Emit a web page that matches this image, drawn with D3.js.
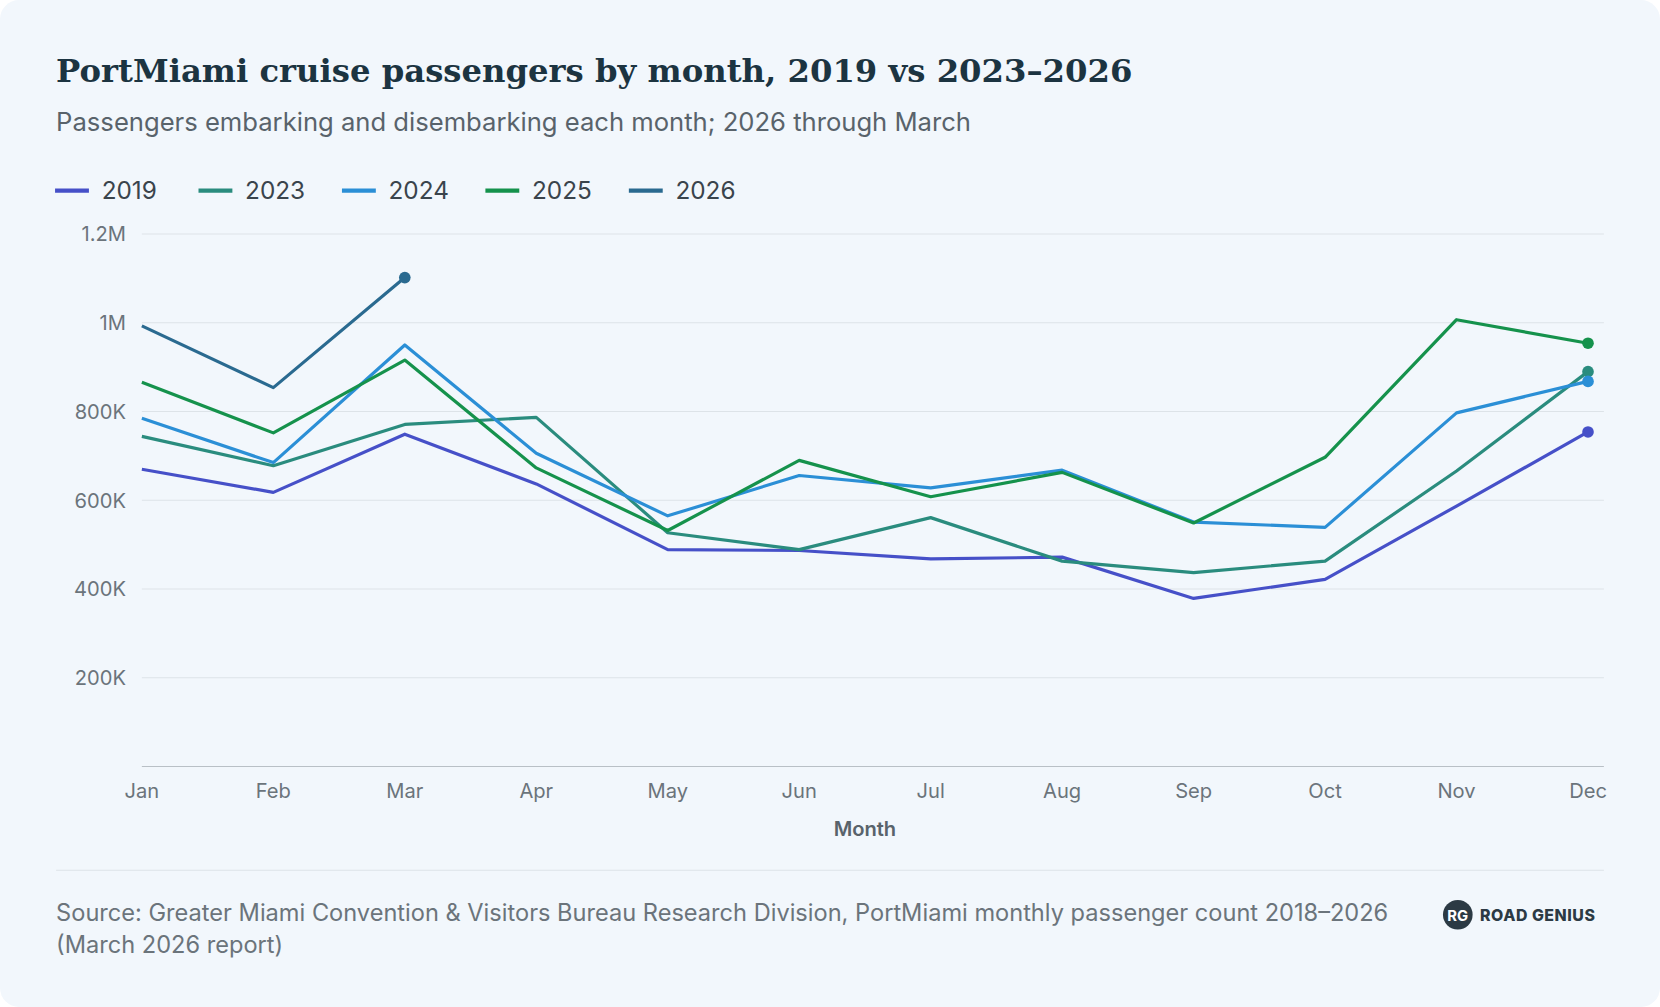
<!DOCTYPE html>
<html><head><meta charset="utf-8">
<script src="https://cdn.jsdelivr.net/npm/d3@7"></script>
<style>
html,body{margin:0;padding:0;background:#fff;}
text{font-family:Inter,"Noto Sans",sans-serif;}
</style></head>
<body><svg id="chart" width="1660" height="1007" viewBox="0 0 1568 951"></svg>
<script>
const months = ["Jan","Feb","Mar","Apr","May","Jun","Jul","Aug","Sep","Oct","Nov","Dec"];
const years = ["2019","2023","2024","2025","2026"];
const colors = ["#4650c8","#2a8c7e","#2b8fd6","#15924c","#2a6a90"];
const v2019 = [670000,618000,749000,637000,489000,487000,468000,472000,379000,422000,587000,754000];
const v2023 = [744000,678000,771000,787000,527000,489000,561000,463000,437000,463000,666000,890000];
const v2024 = [785000,685000,950000,706000,565000,656000,628000,668000,551000,539000,797000,868000];
const v2025 = [866000,752000,916000,673000,532000,690000,608000,663000,549000,697000,1007000,954000];
const v2026 = [993000,854000,1102000];
const yTicks = [200000,400000,600000,800000,1000000,1200000];
const series = [v2019,v2023,v2024,v2025,v2026];

const svg = d3.select("#chart");
svg.append("rect").attr("width",1568).attr("height",951).attr("rx",18).attr("fill","#f2f7fc");

svg.append("text").attr("x",53).attr("y",77).text("PortMiami cruise passengers by month, 2019 vs 2023–2026")
  .style("font-family","'DejaVu Serif',serif").style("font-weight","bold").style("font-size","30.5px").attr("fill","#1c3441");
svg.append("text").attr("x",53).attr("y",124).text("Passengers embarking and disembarking each month; 2026 through March")
  .style("font-size","24.2px").attr("fill","#59636b");

// legend
let lx = 52;
years.forEach((y,i)=>{
  svg.append("line").attr("x1",lx).attr("x2",lx+32).attr("y1",180).attr("y2",180)
    .attr("stroke",colors[i]).attr("stroke-width",4);
  svg.append("text").attr("x",lx+44).attr("y",188).text(y).style("font-size","23px").attr("fill","#3a444c");
  lx += 135.5;
});

const x = d3.scalePoint().domain(months).range([134,1500]);
const y = d3.scaleLinear().domain([0,1200000]).range([724,221]);
const fmt = d => d>=1000000 ? d3.format("~")(d/1000000)+"M" : (d/1000)+"K";

const g = svg.append("g");
g.selectAll(".grid").data(yTicks).enter().append("line")
  .attr("x1",134).attr("x2",1515).attr("y1",d=>y(d)).attr("y2",d=>y(d))
  .attr("stroke","#dde3e8").attr("stroke-width",1);
g.selectAll(".yl").data(yTicks).enter().append("text")
  .attr("x",119).attr("y",d=>y(d)+7).attr("text-anchor","end").text(fmt)
  .style("font-size","19px").attr("fill","#6b747b");
g.append("line").attr("x1",134).attr("x2",1515).attr("y1",y(0)).attr("y2",y(0)).attr("stroke","#b9c0c6");
g.selectAll(".xl").data(months).enter().append("text")
  .attr("x",d=>x(d)).attr("y",754).attr("text-anchor","middle").text(d=>d)
  .style("font-size","19px").attr("fill","#6b747b");
g.append("text").attr("x",817).attr("y",790).attr("text-anchor","middle").text("Month")
  .style("font-size","19px").style("font-weight","600").attr("fill","#59636b");

const line = d3.line().x((d,i)=>x(months[i])).y(d=>y(d));
series.forEach((s,i)=>{
  g.append("path").datum(s).attr("d",line).attr("fill","none")
    .attr("stroke",colors[i]).attr("stroke-width",3).attr("stroke-linejoin","round");
  const last = s.length-1;
  g.append("circle").attr("cx",x(months[last])).attr("cy",y(s[last])).attr("r",5.5).attr("fill",colors[i]);
});

svg.append("line").attr("x1",53).attr("x2",1515).attr("y1",822).attr("y2",822).attr("stroke","#dde3e8");
svg.append("text").attr("x",53).attr("y",870).text("Source: Greater Miami Convention & Visitors Bureau Research Division, PortMiami monthly passenger count 2018–2026")
  .style("font-size","22.3px").attr("fill","#6b747b");
svg.append("text").attr("x",53).attr("y",900).text("(March 2026 report)").style("font-size","22.3px").attr("fill","#6b747b");

// logo
svg.append("circle").attr("cx",1377).attr("cy",864).attr("r",14).attr("fill","#2c3a44");
svg.append("text").attr("x",1377).attr("y",870).attr("text-anchor","middle").text("RG")
  .style("font-size","14px").style("font-weight","bold").attr("fill","#fff");
svg.append("text").attr("x",1398).attr("y",870).text("ROAD GENIUS")
  .style("font-size","15px").style("font-weight","800").style("letter-spacing","0.5px").attr("fill","#2c3a44");
</script></body></html>
